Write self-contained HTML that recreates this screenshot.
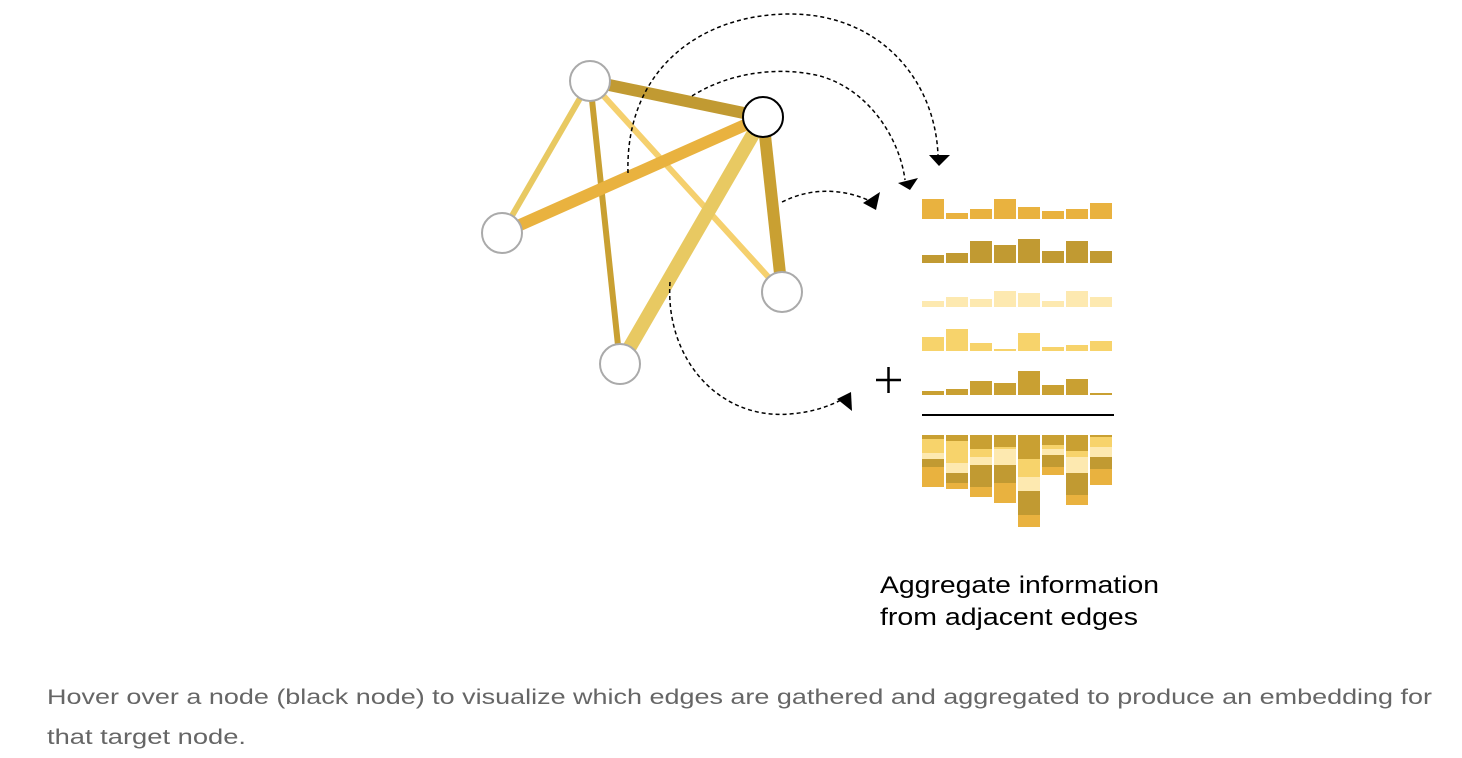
<!DOCTYPE html>
<html><head><meta charset="utf-8"><style>
html,body{margin:0;padding:0;background:#fff;width:1462px;height:758px;overflow:hidden}
svg{display:block}
</style></head><body>
<svg width="1462" height="758" viewBox="0 0 1462 758" xmlns="http://www.w3.org/2000/svg">
<g stroke-linecap="butt">
<line x1="590" y1="81" x2="502" y2="233" stroke="#e8c962" stroke-width="6"/>
<line x1="590" y1="81" x2="620" y2="364" stroke="#c9a032" stroke-width="6"/>
<line x1="590" y1="81" x2="782" y2="292" stroke="#f5d06e" stroke-width="6"/>
<line x1="590" y1="81" x2="763" y2="117" stroke="#c19a32" stroke-width="12"/>
<line x1="502" y1="233" x2="763" y2="117" stroke="#e9b23f" stroke-width="12"/>
<line x1="763" y1="117" x2="620" y2="364" stroke="#e8c962" stroke-width="14"/>
<line x1="763" y1="117" x2="782" y2="292" stroke="#c9a032" stroke-width="12"/>
</g>
<g fill="#fff" stroke="#aaa" stroke-width="2">
<circle cx="590" cy="81" r="20"/>
<circle cx="502" cy="233" r="20"/>
<circle cx="782" cy="292" r="20"/>
<circle cx="620" cy="364" r="20"/>
</g>
<circle cx="763" cy="117" r="20" fill="#fff" stroke="#000" stroke-width="2"/>
<g fill="none" stroke="#000" stroke-width="1.5" stroke-dasharray="4,3">
<path d="M628,173 C625,70 700,14 790,14 C880,14 935,80 938,155"/>
<path d="M692,96 C730,72 780,66 820,76 C870,90 900,140 905,180"/>
<path d="M782,202 C810,188 840,188 868,200"/>
<path d="M670,282 C665,360 720,420 790,414 C815,412 832,405 845,398"/>
</g>
<g fill="#000">
<polygon points="929,155 950,155 939,166"/>
<polygon points="898,183 918,178 910,190"/>
<polygon points="863,203 880,192 876,210"/>
<polygon points="837,399 851,392 852,411"/>
</g>
<g stroke="#000" stroke-width="2.5">
<line x1="876" y1="380" x2="901" y2="380"/>
<line x1="888.5" y1="367" x2="888.5" y2="393"/>
</g>
<g>
<g fill="#e9b23f"><rect x="922" y="199" width="22" height="20"/><rect x="946" y="213" width="22" height="6"/><rect x="970" y="209" width="22" height="10"/><rect x="994" y="199" width="22" height="20"/><rect x="1018" y="207" width="22" height="12"/><rect x="1042" y="211" width="22" height="8"/><rect x="1066" y="209" width="22" height="10"/><rect x="1090" y="203" width="22" height="16"/></g>
<g fill="#c19a32"><rect x="922" y="255" width="22" height="8"/><rect x="946" y="253" width="22" height="10"/><rect x="970" y="241" width="22" height="22"/><rect x="994" y="245" width="22" height="18"/><rect x="1018" y="239" width="22" height="24"/><rect x="1042" y="251" width="22" height="12"/><rect x="1066" y="241" width="22" height="22"/><rect x="1090" y="251" width="22" height="12"/></g>
<g fill="#fde9b0"><rect x="922" y="301" width="22" height="6"/><rect x="946" y="297" width="22" height="10"/><rect x="970" y="299" width="22" height="8"/><rect x="994" y="291" width="22" height="16"/><rect x="1018" y="293" width="22" height="14"/><rect x="1042" y="301" width="22" height="6"/><rect x="1066" y="291" width="22" height="16"/><rect x="1090" y="297" width="22" height="10"/></g>
<g fill="#f7d36b"><rect x="922" y="337" width="22" height="14"/><rect x="946" y="329" width="22" height="22"/><rect x="970" y="343" width="22" height="8"/><rect x="994" y="349" width="22" height="2"/><rect x="1018" y="333" width="22" height="18"/><rect x="1042" y="347" width="22" height="4"/><rect x="1066" y="345" width="22" height="6"/><rect x="1090" y="341" width="22" height="10"/></g>
<g fill="#c9a032"><rect x="922" y="391" width="22" height="4"/><rect x="946" y="389" width="22" height="6"/><rect x="970" y="381" width="22" height="14"/><rect x="994" y="383" width="22" height="12"/><rect x="1018" y="371" width="22" height="24"/><rect x="1042" y="385" width="22" height="10"/><rect x="1066" y="379" width="22" height="16"/><rect x="1090" y="393" width="22" height="2"/></g>
<rect x="922" y="414" width="192" height="2" fill="#000"/>
<g fill="#c9a032"><rect x="922" y="435" width="22" height="4"/><rect x="946" y="435" width="22" height="6"/><rect x="970" y="435" width="22" height="14"/><rect x="994" y="435" width="22" height="12"/><rect x="1018" y="435" width="22" height="24"/><rect x="1042" y="435" width="22" height="10"/><rect x="1066" y="435" width="22" height="16"/><rect x="1090" y="435" width="22" height="2"/></g>
<g fill="#f7d36b"><rect x="922" y="439" width="22" height="14"/><rect x="946" y="441" width="22" height="22"/><rect x="970" y="449" width="22" height="8"/><rect x="994" y="447" width="22" height="2"/><rect x="1018" y="459" width="22" height="18"/><rect x="1042" y="445" width="22" height="4"/><rect x="1066" y="451" width="22" height="6"/><rect x="1090" y="437" width="22" height="10"/></g>
<g fill="#fde9b0"><rect x="922" y="453" width="22" height="6"/><rect x="946" y="463" width="22" height="10"/><rect x="970" y="457" width="22" height="8"/><rect x="994" y="449" width="22" height="16"/><rect x="1018" y="477" width="22" height="14"/><rect x="1042" y="449" width="22" height="6"/><rect x="1066" y="457" width="22" height="16"/><rect x="1090" y="447" width="22" height="10"/></g>
<g fill="#c19a32"><rect x="922" y="459" width="22" height="8"/><rect x="946" y="473" width="22" height="10"/><rect x="970" y="465" width="22" height="22"/><rect x="994" y="465" width="22" height="18"/><rect x="1018" y="491" width="22" height="24"/><rect x="1042" y="455" width="22" height="12"/><rect x="1066" y="473" width="22" height="22"/><rect x="1090" y="457" width="22" height="12"/></g>
<g fill="#e9b23f"><rect x="922" y="467" width="22" height="20"/><rect x="946" y="483" width="22" height="6"/><rect x="970" y="487" width="22" height="10"/><rect x="994" y="483" width="22" height="20"/><rect x="1018" y="515" width="22" height="12"/><rect x="1042" y="467" width="22" height="8"/><rect x="1066" y="495" width="22" height="10"/><rect x="1090" y="469" width="22" height="16"/></g>
</g>
<g font-family="Liberation Sans, sans-serif" font-size="24" fill="#000">
<text x="880" y="593" textLength="279" lengthAdjust="spacingAndGlyphs">Aggregate information</text>
<text x="880" y="625" textLength="258" lengthAdjust="spacingAndGlyphs">from adjacent edges</text>
</g>
<g font-family="Liberation Sans, sans-serif" font-size="21" fill="#666">
<text x="47" y="704" textLength="1385" lengthAdjust="spacingAndGlyphs">Hover over a node (black node) to visualize which edges are gathered and aggregated to produce an embedding for</text>
<text x="47" y="744" textLength="199" lengthAdjust="spacingAndGlyphs">that target node.</text>
</g>
</svg>
</body></html>
